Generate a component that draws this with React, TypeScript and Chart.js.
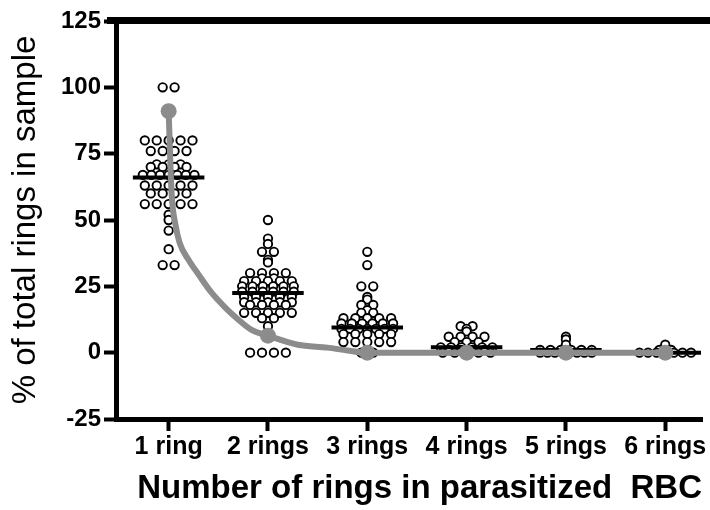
import { useEffect, useRef } from 'react';
import { Chart, registerables } from 'chart.js';

Chart.register(...registerables);

const categories = ['1 ring', '2 rings', '3 rings', '4 rings', '5 rings', '6 rings'];
const yTickValues = [-25, 0, 25, 50, 75, 100, 125];

const ring1 = [100, 100, 80, 80, 80, 80, 80, 76, 76, 76, 76, 71, 71, 71, 70, 70, 70, 70, 67, 67, 67, 67, 67, 67, 67, 63, 63, 63, 63, 63, 60, 60, 60, 60, 56, 56, 56, 56, 56, 52, 50, 46, 39, 33, 33];
const ring2 = [50, 43, 41, 38, 38, 35, 34, 30, 30, 30, 30, 28, 28, 27, 27, 27, 27, 27, 25, 25, 25, 25, 25, 25, 23, 23, 23, 23, 23, 23, 21, 21, 21, 21, 21, 19, 19, 19, 19, 19, 18, 18, 18, 18, 15, 15, 15, 15, 15, 13, 13, 10, 0, 0, 0, 0];
const ring3 = [38, 33, 25, 25, 21, 20, 18, 18, 16, 15, 15, 13, 13, 13, 13, 13, 11, 11, 11, 11, 11, 11, 9, 9, 9, 9, 9, 9, 9, 7, 7, 7, 7, 7, 4, 4, 4, 4, 4, 0, 0];
const ring4 = [10, 10, 9, 8, 6, 6, 6, 6, 4, 4, 4, 2, 2, 2, 2, 2, 2, 1, 1, 1, 1, 0, 0, 0, 0, 0];
const ring5 = [6, 5, 3, 1, 1, 1, 1, 1, 1, 0, 0, 0, 0, 0, 0, 0, 0];
const ring6 = [3, 1, 1, 0, 0, 0, 0, 0, 0, 0];

const medians = [66, 22.5, 9.5, 2, 1, 0];
const groupMeans = [91, 6.4, 0, 0, 0, 0];

const fitX = [1, 1.03, 1.07, 1.11, 1.2, 1.3, 1.43, 1.57, 1.7, 1.83, 2, 2.3, 2.6, 2.8, 3, 4, 5, 6];
const fitY = [91, 60, 48, 41.5, 35, 29.5, 22.7, 17, 12.5, 8.7, 6.4, 3, 1.9, 0.8, 0, 0, 0, 0];

const FONT = "'Liberation Sans', Arial, sans-serif";
const GRAY = '#8c8c8c';

function spread(values: number[], center: number) {
  const groups = new Map<number, number>();
  values.forEach((v) => groups.set(v, (groups.get(v) || 0) + 1));
  const pts: { x: number; y: number }[] = [];
  groups.forEach((k, v) => {
    const step = k > 1 ? Math.min(0.12, 0.52 / (k - 1)) : 0;
    for (let i = 0; i < k; i++) pts.push({ x: center + (i - (k - 1) / 2) * step, y: v });
  });
  return pts;
}

const topLine = {
  id: 'topLine',
  afterDraw(chart: any) {
    const { ctx, chartArea, width } = chart;
    ctx.save();
    ctx.fillStyle = '#000';
    ctx.fillRect(chartArea.left - 9, chartArea.top - 4, width - chartArea.left + 9, 7);
    ctx.restore();
  },
};

export default function App() {
  const ref = useRef<HTMLCanvasElement | null>(null);

  useEffect(() => {
    if (!ref.current) return;
    const groups = [ring1, ring2, ring3, ring4, ring5, ring6];
    const points = groups.flatMap((g, i) => spread(g, i + 1));

    const medianSets = medians.map((m, i) => ({
      type: 'line' as const,
      data: [
        { x: i + 1 - 0.36, y: m },
        { x: i + 1 + 0.36, y: m },
      ],
      borderColor: '#000',
      borderWidth: 4,
      pointRadius: 0,
      showLine: true,
      order: 1,
    }));

    const chart = new Chart(ref.current, {
      type: 'scatter',
      data: {
        datasets: [
          {
            type: 'line',
            data: fitX.map((x, i) => ({ x, y: fitY[i] })),
            borderColor: GRAY,
            borderWidth: 6,
            pointRadius: 0,
            cubicInterpolationMode: 'monotone',
            fill: false,
            order: 0,
          } as any,
          {
            data: groupMeans.map((y, i) => ({ x: i + 1, y })),
            backgroundColor: GRAY,
            borderWidth: 0,
            pointRadius: 8,
            order: 0,
          },
          ...medianSets,
          {
            data: points,
            backgroundColor: '#fff',
            borderColor: '#000',
            borderWidth: 1.9,
            pointRadius: 4.2,
            order: 2,
          },
        ],
      },
      options: {
        responsive: false,
        animation: false,
        devicePixelRatio: 1,
        layout: { padding: { top: 21, right: 3, left: 0, bottom: 0 } },
        plugins: { legend: { display: false }, tooltip: { enabled: false } },
        scales: {
          x: {
            type: 'linear',
            min: 0.47,
            max: 6.37,
            afterBuildTicks: (s: any) => {
              s.ticks = categories.map((_, i) => ({ value: i + 1 }));
            },
            afterFit: (s: any) => {
              s.height = 91;
              s.paddingLeft = 0;
              s.paddingRight = 0;
            },
            ticks: {
              autoSkip: false,
              maxRotation: 0,
              padding: 1,
              color: '#000',
              font: { family: FONT, size: 25, weight: 'bold' },
              callback: (v: any) => categories[Math.round(v) - 1] ?? '',
            },
            grid: {
              drawOnChartArea: false,
              drawTicks: true,
              tickLength: 12,
              tickWidth: 4,
              tickColor: '#000',
            },
            border: { display: true, width: 5, color: '#000' },
            title: {
              display: true,
              align: 'end',
              text: 'Number of rings in parasitized  RBC',
              color: '#000',
              font: { family: FONT, size: 33, weight: 'bold' },
              padding: { top: 0, bottom: 1 },
            },
          },
          y: {
            type: 'linear',
            min: -25,
            max: 125,
            afterBuildTicks: (s: any) => {
              s.ticks = yTickValues.map((value) => ({ value }));
            },
            afterFit: (s: any) => {
              s.width = 116;
              s.paddingTop = 0;
              s.paddingBottom = 0;
            },
            ticks: {
              padding: 3,
              color: '#000',
              font: { family: FONT, size: 24, weight: 'bold' },
            },
            grid: {
              drawOnChartArea: false,
              drawTicks: true,
              tickLength: 12,
              tickWidth: 4,
              tickColor: '#000',
            },
            border: { display: true, width: 5, color: '#000' },
            title: {
              display: true,
              text: '% of total rings in sample',
              color: '#000',
              font: { family: FONT, size: 33 },
              padding: { top: 6, bottom: 0 },
            },
          },
        },
      },
      plugins: [topLine],
    });
    return () => chart.destroy();
  }, []);

  return (
    <div style={{ position: 'absolute', left: 0, top: 0, width: 710, height: 510, background: '#fff' }}>
      <canvas ref={ref} width={710} height={510} />
    </div>
  );
}
